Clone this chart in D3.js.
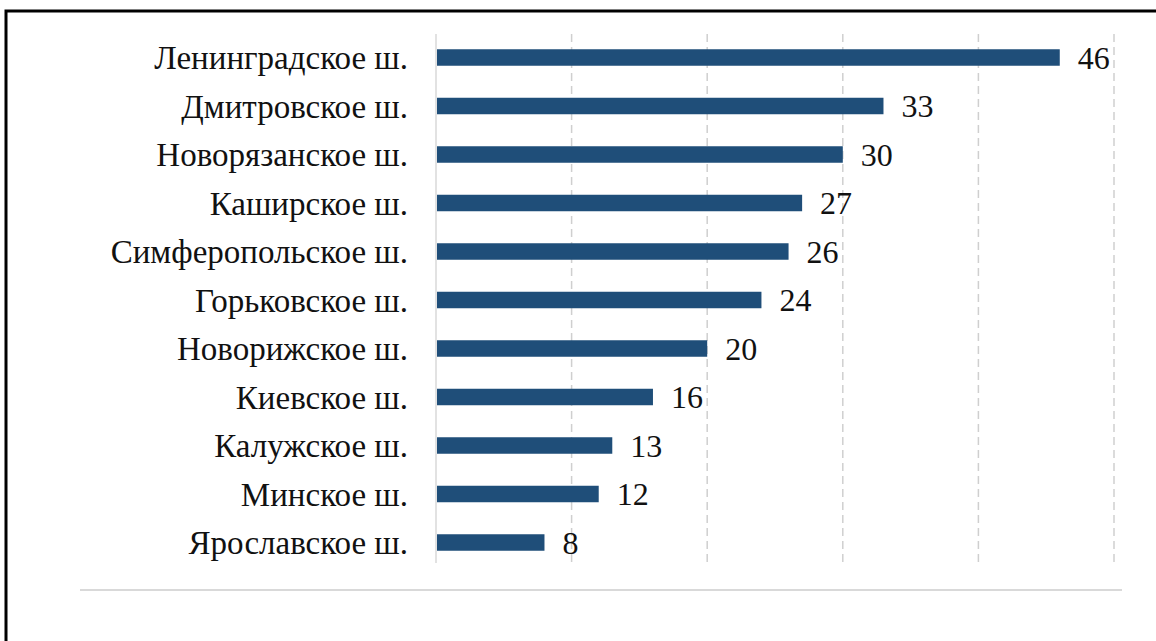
<!DOCTYPE html>
<html><head><meta charset="utf-8">
<script src="https://cdn.jsdelivr.net/npm/d3@7"></script>
<style>body{margin:0;background:#fff;}svg{display:block;}</style>
</head><body>
<script>
const categories = ["Ленинградское ш.","Дмитровское ш.","Новорязанское ш.","Каширское ш.","Симферопольское ш.","Горьковское ш.","Новорижское ш.","Киевское ш.","Калужское ш.","Минское ш.","Ярославское ш."];
const values = [46,33,30,27,26,24,20,16,13,12,8];
const xTicks = [0,10,20,30,40,50];

const W=1156,H=641;
const svg=d3.select("body").append("svg").attr("width",W).attr("height",H);
svg.append("rect").attr("x",6).attr("y",11).attr("width",W+20).attr("height",H+20)
  .attr("fill","none").attr("stroke","#000").attr("stroke-width",3);

const x=d3.scaleLinear().domain([0,50]).range([436,1114]);
const y=d3.scaleBand().domain(categories).range([33.25,566.75]).paddingInner(0.66).paddingOuter(0.33);

const g=svg.append("g");
g.selectAll("line.grid").data(xTicks).join("line")
  .attr("x1",d=>x(d)).attr("x2",d=>x(d)).attr("y1",34).attr("y2",563)
  .attr("stroke",d=>d===0?"#d9d9d9":"#cfcfcf").attr("stroke-width",1.5)
  .attr("stroke-dasharray",d=>d===0?null:"8,5");

svg.append("line").attr("x1",80).attr("x2",1122).attr("y1",590).attr("y2",590)
  .attr("stroke","#d9d9d9").attr("stroke-width",2);

const data=categories.map((c,i)=>({c,v:values[i]}));
g.selectAll("rect.bar").data(data).join("rect")
  .attr("x",x(0)+1).attr("y",d=>y(d.c)).attr("width",d=>x(d.v)-x(0)-1).attr("height",y.bandwidth())
  .attr("fill","#1f4e79");

const font="'Liberation Serif','Times New Roman',serif";
g.selectAll("text.cat").data(data).join("text")
  .attr("x",408).attr("y",d=>y(d.c)+y.bandwidth()/2).attr("dy","0.35em")
  .attr("text-anchor","end").attr("font-family",font).attr("font-size",33).attr("fill","#111")
  .text(d=>d.c);
g.selectAll("text.val").data(data).join("text")
  .attr("x",d=>x(d.v)+18).attr("y",d=>y(d.c)+y.bandwidth()/2).attr("dy","0.35em")
  .attr("font-family",font).attr("font-size",32).attr("fill","#111")
  .text(d=>d.v);
</script>
</body></html>
